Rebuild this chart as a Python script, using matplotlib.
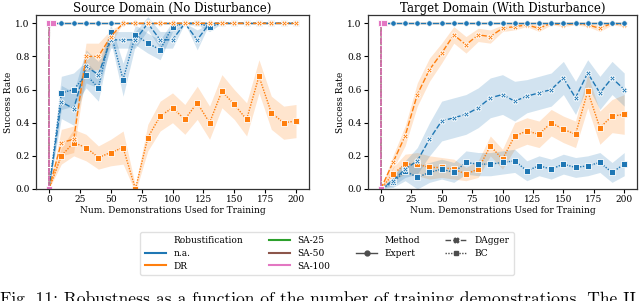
import matplotlib
matplotlib.use("Agg")
import matplotlib.pyplot as plt
from matplotlib.lines import Line2D
import numpy as np

# number of demonstrations
demos = list(range(0, 201, 10))
sa_demos = [0, 0.3, 3]

# Source domain (no disturbance)
src_expert = [1.0] * 21
src_dagger_na = [0, .525, .485, .74, .69, .90, .90, .90, 1.0, .90, .90, 1.0, .90, 1.0, 1.0, 1.0, 1.0, 1.0, 1.0, 1.0, 1.0]
src_bc_na = [0, .58, .60, .69, .61, .945, .66, .93, .88, .84, .98, 1.0, 1.0, .98, 1.0, 1.0, 1.0, 1.0, 1.0, 1.0, 1.0]
src_dagger_dr = [0, .28, .30, .80, .80, .92, 1.0, 1.0, 1.0, 1.0, 1.0, 1.0, 1.0, 1.0, 1.0, 1.0, 1.0, 1.0, 1.0, 1.0, 1.0]
src_bc_dr = [0, .20, .28, .25, .19, .22, .25, 0, .31, .44, .49, .42, .52, .40, .59, .51, .42, .68, .46, .40, .41]

# half widths of the shaded bands (source)
src_dagger_na_ci = [0, .10, .10, .10, .08, .05, .05, .05, .04, .05, .05, 0, .06, 0, 0, 0, 0, 0, 0, 0, 0]
src_bc_na_ci = [0, .10, .10, .08, .08, .05, .10, .06, .06, .06, .03, .01, .01, .03, 0, 0, 0, 0, 0, 0, 0]
src_dagger_dr_ci = [0, .08, .08, .08, .08, .04, 0, 0, 0, 0, 0, 0, 0, 0, 0, 0, 0, 0, 0, 0, 0]
src_bc_dr_ci = [0, .05, .08, .08, .07, .08, .10, .02, .08, .09, .09, .09, .10, .10, .10, .09, .10, .10, .10, .10, .10]

# Target domain (with disturbance)
tgt_expert = [1.0] * 21
tgt_dagger_na = [0, .05, .12, .17, .30, .41, .43, .45, .49, .55, .57, .53, .56, .58, .60, .67, .55, .70, .58, .67, .60]
tgt_bc_na = [0, .04, .11, .07, .10, .12, .10, .16, .15, .15, .16, .17, .11, .14, .12, .15, .13, .14, .16, .10, .15]
tgt_dagger_dr = [0, .16, .32, .57, .72, .82, .93, .87, .93, .92, .97, .98, .99, .97, 1.0, .99, 1.0, .99, .97, 1.0, .99]
tgt_bc_dr = [0, .09, .15, .15, .13, .13, .12, .09, .12, .26, .18, .32, .35, .33, .40, .36, .33, .59, .37, .44, .45]

tgt_dagger_na_ci = [0, .03, .05, .08, .10, .12, .12, .12, .12, .12, .12, .12, .10, .10, .10, .10, .10, .08, .10, .10, .10]
tgt_bc_na_ci = [0, .03, .06, .07, .06, .06, .06, .07, .07, .07, .07, .07, .06, .06, .06, .06, .06, .06, .06, .06, .07]
tgt_dagger_dr_ci = [0, .04, .06, .07, .07, .06, .05, .05, .04, .04, .02, .02, .01, .02, .01, .01, .01, .01, .02, .01, .01]
tgt_bc_dr_ci = [0, .04, .06, .07, .07, .06, .06, .04, .05, .06, .06, .08, .08, .08, .08, .08, .08, .10, .10, .10, .12]

# SA variants only at the very start
sa_values = [0, 1.0, 1.0]

robust_colors = {"n.a.": "#1f77b4", "DR": "#ff7f0e", "SA-25": "#2ca02c", "SA-50": "#8c564b", "SA-100": "#e377c2"}
method_style = {"Expert": ("-", "o"), "DAgger": ((0, (4, 1.5)), "X"), "BC": ((0, (1, 1)), "s")}

plt.rcParams["font.family"] = "DejaVu Serif"
plt.rcParams["font.size"] = 6.5


def draw(ax, x, y, ci, robust, method):
    color = robust_colors[robust]
    ls, marker = method_style[method]
    x = np.array(x)
    y = np.array(y)
    if ci is not None:
        ci = np.array(ci)
        ax.fill_between(x, y - ci, y + ci, color=color, alpha=0.2, lw=0)
    ax.plot(x, y, color=color, ls=ls, lw=1.0, marker=marker, ms=4,
            mec="white", mew=0.6)


fig = plt.figure(figsize=(6.4, 3.01), dpi=100)
ax1 = fig.add_axes([36 / 640, 112 / 301, 273 / 640, 174 / 301])
ax2 = fig.add_axes([368 / 640, 112 / 301, 269 / 640, 174 / 301])

panels = [
    (ax1, "Source Domain (No Disturbance)", False,
     src_expert, src_dagger_na, src_dagger_na_ci, src_bc_na, src_bc_na_ci,
     src_dagger_dr, src_dagger_dr_ci, src_bc_dr, src_bc_dr_ci),
    (ax2, "Target Domain (With Disturbance)", True,
     tgt_expert, tgt_dagger_na, tgt_dagger_na_ci, tgt_bc_na, tgt_bc_na_ci,
     tgt_dagger_dr, tgt_dagger_dr_ci, tgt_bc_dr, tgt_bc_dr_ci),
]

for ax, title, expert_on_top, exp, dag_na, dag_na_ci, bc_na, bc_na_ci, dag_dr, dag_dr_ci, bc_dr, bc_dr_ci in panels:
    draw(ax, demos, exp, None, "DR", "Expert")
    if not expert_on_top:
        draw(ax, demos, exp, None, "n.a.", "Expert")
    draw(ax, demos, bc_dr, bc_dr_ci, "DR", "BC")
    draw(ax, demos, bc_na, bc_na_ci, "n.a.", "BC")
    draw(ax, demos, dag_na, dag_na_ci, "n.a.", "DAgger")
    draw(ax, demos, dag_dr, dag_dr_ci, "DR", "DAgger")
    if expert_on_top:
        draw(ax, demos, exp, None, "n.a.", "Expert")
    for sa in ["SA-25", "SA-50", "SA-100"]:
        draw(ax, sa_demos, sa_values, None, sa, "DAgger")
        draw(ax, sa_demos, sa_values, None, sa, "BC")
    ax.set_xlim(-10.5, 210.5)
    ax.set_ylim(0, 1.05)
    ax.set_xticks([0, 25, 50, 75, 100, 125, 150, 175, 200])
    ax.set_yticks([0, 0.2, 0.4, 0.6, 0.8, 1.0])
    ax.set_title(title, fontsize=8.5, pad=2)
    ax.set_xlabel("Num. Demonstrations Used for Training", labelpad=1)
    ax.set_ylabel("Success Rate", labelpad=2)
    ax.tick_params(length=3, width=0.8, pad=1.5)
    for s in ax.spines.values():
        s.set_color("0.2")
        s.set_linewidth(0.9)

# legend, seaborn-style with section titles
blank = Line2D([], [], color="none")
handles = [blank]
labels = ["Robustification"]
for name, c in robust_colors.items():
    handles.append(Line2D([], [], color=c, lw=1.5))
    labels.append(name)
handles.append(blank)
labels.append("Method")
for name, (ls, marker) in method_style.items():
    handles.append(Line2D([], [], color="0.3", ls=ls, lw=1.0, marker=marker, ms=3.5))
    labels.append(name)

fig.legend(handles, labels, loc="upper center", bbox_to_anchor=(0.511, 0.245), ncol=4,
           fontsize=6.5, frameon=True, edgecolor="0.85", handlelength=2.4,
           columnspacing=2.8, labelspacing=0.4, borderpad=0.5)

fig.text(0.0, 0.034, "Fig. 11: Robustness as a function of the number of training demonstrations. The II",
         family="cmr10", fontsize=12.6, va="top", ha="left")

fig.savefig("out.png", dpi=100)
